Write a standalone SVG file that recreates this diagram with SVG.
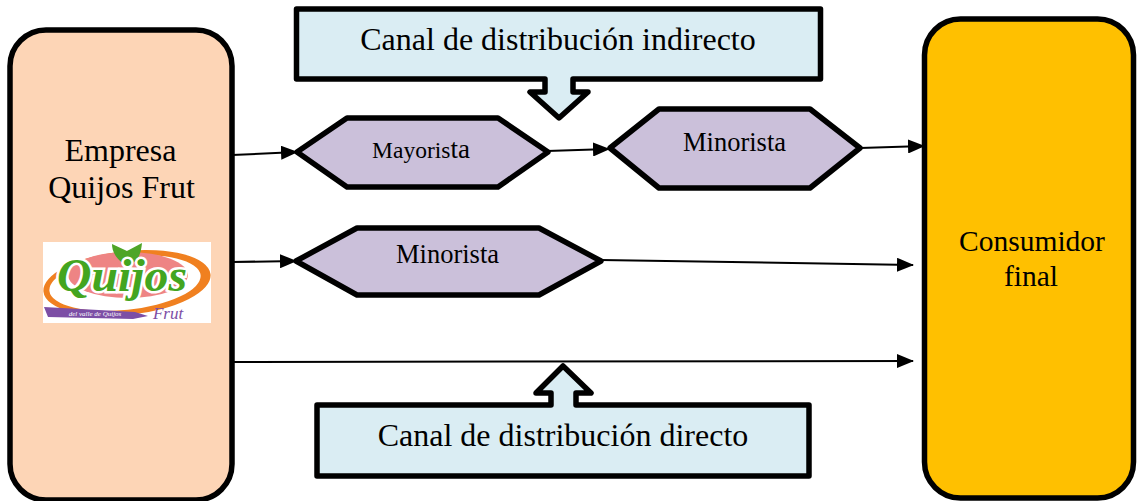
<svg xmlns="http://www.w3.org/2000/svg" width="1137" height="501" viewBox="0 0 1137 501">
<style>
.n{stroke:#000;stroke-width:5.500;stroke-linejoin:round}
.t{font-family:"Liberation Serif","Times New Roman",serif;fill:#000;text-anchor:middle}
.c{stroke:#000;stroke-width:2;fill:none;marker-end:url(#a)}
.h{fill:#cbc0da}
.b{fill:#daedf3}
</style>
<defs><marker id="a" markerUnits="userSpaceOnUse" markerWidth="17" markerHeight="14" refX="16" refY="7" orient="auto"><path d="M0 0L17 7L0 14Z" fill="#000"/></marker></defs>
<rect width="1137" height="501" fill="#fff"/>
<g id="connectors">
<path class="c" d="M232 155L297 152"/>
<path class="c" d="M547 151L609 149"/>
<path class="c" d="M860 148L924 146"/>
<path class="c" d="M232 262L296 261"/>
<path class="c" d="M601 260L913 265"/>
<path class="c" d="M232 362L913 361"/>
</g>
<g id="empresa">
<rect class="n" x="10" y="30" width="222" height="470" rx="36" fill="#fdd5b6"/>
<text class="t" font-size="32" x="120.500" y="161">Empresa</text>
<text class="t" font-size="32" x="121.500" y="198">Quijos Frut</text>
<g id="logo">
<rect x="43" y="242" width="168" height="81" fill="#fff"/>
<ellipse cx="127" cy="283" rx="84" ry="32" fill="#f08020" transform="rotate(-6 127 283)"/>
<ellipse cx="125" cy="283" rx="76" ry="27" fill="#fff" transform="rotate(-6 125 283)"/>
<ellipse cx="128" cy="275" rx="60" ry="23" fill="#ee8484"/>
<path d="M44 307L135 312L148 316L133 319L48 317Z" fill="#7c4ea5"/>
<path d="M127 265C115 260 112 250 112 244L127 251L142 243C141 254 138 263 127 265Z" fill="#4fa528"/>
<text x="122" y="291" text-anchor="middle" font-family="Liberation Serif,serif" font-style="italic" font-weight="bold" font-size="46" fill="#43a520" stroke="#fff" stroke-width="5" paint-order="stroke" textLength="130" lengthAdjust="spacingAndGlyphs">Quijos</text>
<text x="168" y="319" text-anchor="middle" font-family="Liberation Serif,serif" font-style="italic" font-size="17" fill="#7c4ea5">Frut</text>
<text x="95" y="316" text-anchor="middle" font-family="Liberation Serif,serif" font-style="italic" font-size="7" fill="#fff">del valle de Quijos</text>
</g>
</g>
<g id="consumidor">
<rect class="n" x="924.500" y="19" width="209" height="479" rx="36" fill="#ffc000"/>
<text class="t" font-size="29.500" x="1032" y="251">Consumidor</text>
<text class="t" font-size="29.500" x="1031" y="286">final</text>
</g>
<g id="mayorista">
<path class="n h" d="M297 152L347 118H498L548 152L498 187H347Z"/>
<text class="t" font-size="27" x="421" y="158"><tspan font-size="23.500">Mayoris</tspan>ta</text>
</g>
<g id="minorista-1">
<path class="n h" d="M610 148L659 109H810L860 148L810 188H659Z"/>
<text class="t" font-size="26.500" x="734.500" y="151">Minorista</text>
</g>
<g id="minorista-2">
<path class="n h" d="M296 261L357 228H539L601 261L539 295H357Z"/>
<text class="t" font-size="26.500" x="447.500" y="263">Minorista</text>
</g>
<g id="canal-indirecto">
<path class="n b" d="M296.500 9H820.500V79H573V92H588L559 118L530 92H545V79H296.500Z"/>
<text class="t" font-size="32" x="558" y="50">Canal de distribución indirecto</text>
</g>
<g id="canal-directo">
<path class="n b" d="M317 405H551V393H536L563 366L591 393H576V405H809V476H317Z"/>
<text class="t" font-size="32" x="563" y="446">Canal de distribución directo</text>
</g>
</svg>
